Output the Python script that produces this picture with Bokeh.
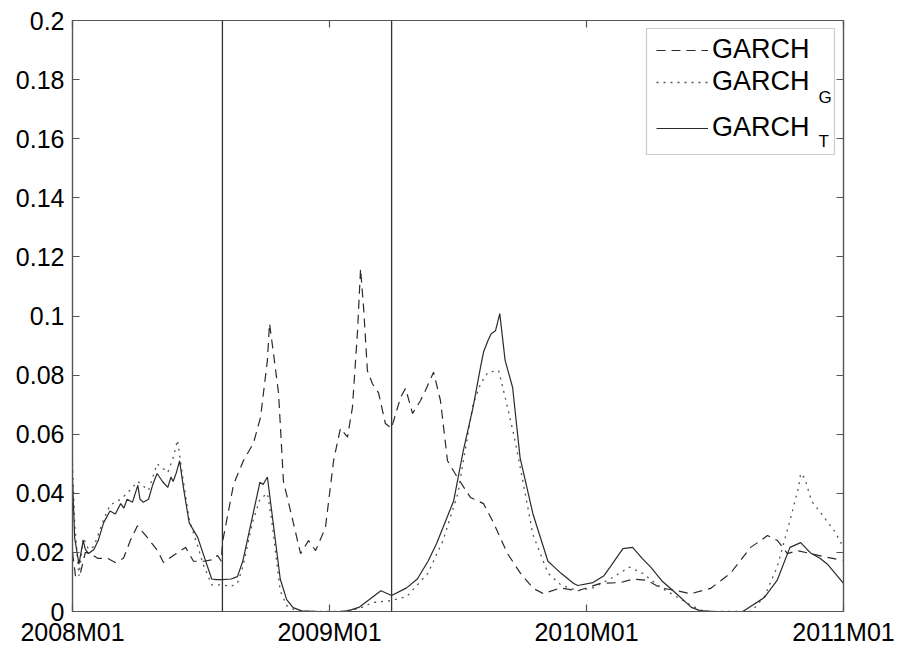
from bokeh.plotting import figure
from bokeh.models import (FixedTicker, LinearAxis, Span, Legend, LegendItem,
                          Label, BoxAnnotation, Range1d)
from bokeh.embed import file_html
from bokeh.resources import INLINE

FONT = "Liberation Sans"

# x in months since 2008M01
x_ticks = [0, 12, 24, 36]
x_tick_labels = ["2008M01", "2009M01", "2010M01", "2011M01"]
y_ticks = [0, 0.02, 0.04, 0.06, 0.08, 0.1, 0.12, 0.14, 0.16, 0.18, 0.2]
y_tick_labels = ["0", "0.02", "0.04", "0.06", "0.08", "0.1", "0.12",
                 "0.14", "0.16", "0.18", "0.2"]
event_months = [7.0, 14.9]

series_names = ["GARCH", "GARCH", "GARCH"]
series_subscripts = ["", "G", "T"]

# GARCH (dashed)
t_garch = [0, 0.14, 0.37, 0.6, 0.84, 1.17, 1.63, 2.0, 2.38, 2.7,
           3.03, 3.5, 3.97, 4.25, 4.72, 5.28, 5.65, 6.12, 6.54, 6.77,
           6.95, 7.0, 7.52, 7.98, 8.45, 8.78, 9.1, 9.2, 9.39, 9.62,
           9.85, 10.18, 10.65, 11.02, 11.35, 11.81, 12.19, 12.51, 12.84, 13.07,
           13.31, 13.45, 13.59, 13.77, 14.01, 14.29, 14.61, 14.89, 15.32, 15.55,
           15.88, 16.25, 16.48, 16.86, 17.18, 17.51, 17.98, 18.58, 19.19, 19.66,
           20.31, 20.92, 21.52, 21.99, 22.79, 23.58, 24.65, 25.59, 26.19, 26.85,
           27.46, 28.25, 28.86, 29.79, 30.72, 31.66, 32.13, 32.45, 32.92, 33.38,
           33.85, 34.46, 35.25, 35.95]
v_garch = [0.020, 0.012, 0.013, 0.020, 0.0196, 0.018, 0.018, 0.0166, 0.018, 0.024,
           0.029, 0.025, 0.0206, 0.0166, 0.019, 0.0217, 0.017, 0.017, 0.0175, 0.019,
           0.017, 0.0233, 0.043, 0.051, 0.057, 0.0657, 0.085, 0.0975, 0.087, 0.074,
           0.044, 0.034, 0.0196, 0.024, 0.0206, 0.0284, 0.051, 0.062, 0.059, 0.069,
           0.095, 0.116, 0.103, 0.0815, 0.077, 0.074, 0.0636, 0.062, 0.0725, 0.0755,
           0.067, 0.0714, 0.0748, 0.081, 0.0714, 0.051, 0.0453, 0.0386, 0.0365, 0.030,
           0.0196, 0.0129, 0.0078, 0.006, 0.008, 0.007, 0.0095, 0.0098, 0.011, 0.0105,
           0.008, 0.007, 0.006, 0.0078, 0.0129, 0.0217, 0.024, 0.0257, 0.024, 0.0196,
           0.0206, 0.0196, 0.0183, 0.0173]

# GARCH_G (dotted)
t_garch_g = [0, 0.1, 0.3, 0.5, 0.75, 1.0, 1.45, 1.75, 2.25, 2.55,
             3.05, 3.55, 3.95, 4.45, 4.7, 4.9, 5.0, 5.2, 5.45, 5.85,
             6.1, 6.5, 7.0, 7.4, 7.7, 7.95, 8.4, 8.75, 9.1, 9.3,
             9.7, 10.0, 10.5, 12.5, 13.4, 14.0, 14.9, 15.6, 16.6, 17.3,
             18.0, 18.25, 18.7, 19.05, 19.4, 19.9, 20.2, 20.6, 20.9, 21.5,
             22.2, 22.8, 23.6, 24.3, 25.1, 26.0, 26.6, 27.5, 28.2, 28.9,
             29.5, 31.7, 32.3, 32.9, 33.5, 33.9, 34.0, 34.2, 34.5, 35.1,
             35.6, 36.0]
v_garch_g = [0.050, 0.030, 0.012, 0.025, 0.021, 0.022, 0.031, 0.036, 0.038, 0.040,
             0.044, 0.041, 0.050, 0.047, 0.052, 0.058, 0.053, 0.043, 0.031, 0.022,
             0.016, 0.009, 0.009, 0.0085, 0.0095, 0.015, 0.030, 0.038, 0.040, 0.031,
             0.007, 0.002, 0.0, 0.0, 0.001, 0.003, 0.0037, 0.005, 0.013, 0.024,
             0.040, 0.051, 0.070, 0.077, 0.081, 0.0815, 0.0725, 0.060, 0.049, 0.026,
             0.013, 0.009, 0.007, 0.008, 0.011, 0.015, 0.013, 0.008, 0.005, 0.002,
             0.0, 0.0, 0.005, 0.015, 0.0308, 0.042, 0.0467, 0.045, 0.0375, 0.0318,
             0.027, 0.0217]

# GARCH_T (solid)
t_garch_t = [0, 0.1, 0.3, 0.5, 0.6, 0.75, 1.0, 1.2, 1.45, 1.75,
             2.0, 2.25, 2.4, 2.55, 2.8, 3.05, 3.15, 3.3, 3.55, 3.75,
             3.95, 4.2, 4.45, 4.6, 4.7, 4.85, 5.0, 5.2, 5.45, 5.85,
             6.1, 6.5, 6.7, 7.0, 7.4, 7.7, 7.95, 8.4, 8.75, 8.9,
             9.1, 9.3, 9.7, 10.0, 10.3, 10.7, 11.5, 12.5, 12.9, 13.4,
             13.8, 14.4, 14.9, 15.6, 16.1, 16.6, 17.0, 17.3, 17.8, 18.25,
             18.7, 19.05, 19.2, 19.4, 19.55, 19.75, 19.95, 20.2, 20.55, 20.9,
             21.5, 22.2, 22.5, 22.8, 23.4, 23.6, 24.3, 24.8, 25.1, 25.7,
             26.15, 26.6, 27.0, 27.5, 28.2, 28.9, 29.3, 30.0, 31.3, 32.3,
             32.9, 33.5, 34.0, 34.3, 34.5, 34.9, 35.25, 35.6, 36.0]
v_garch_t = [0.045, 0.025, 0.016, 0.024, 0.021, 0.0196, 0.021, 0.024, 0.030, 0.034,
             0.033, 0.0365, 0.035, 0.038, 0.037, 0.0427, 0.038, 0.037, 0.038, 0.043,
             0.0467, 0.044, 0.042, 0.0455, 0.044, 0.047, 0.051, 0.041, 0.030, 0.025,
             0.0196, 0.011, 0.0108, 0.0108, 0.011, 0.0118, 0.017, 0.032, 0.0437, 0.043,
             0.0455, 0.034, 0.011, 0.004, 0.0013, 0.0002, 0.0, 0.0, 0.0003, 0.0015,
             0.0037, 0.007, 0.0054, 0.008, 0.011, 0.017, 0.023, 0.0284, 0.0375, 0.0545,
             0.069, 0.0826, 0.088, 0.0917, 0.094, 0.095, 0.1008, 0.085, 0.0758, 0.052,
             0.033, 0.017, 0.015, 0.013, 0.0095, 0.0088, 0.0098, 0.012, 0.015, 0.0213,
             0.0217, 0.018, 0.015, 0.0105, 0.006, 0.0014, 0.0003, 0.0, 0.0, 0.0047,
             0.0105, 0.0217, 0.0233, 0.021, 0.0196, 0.018, 0.016, 0.013, 0.0095]

AXIS_COLOR = "#555555"
LINE_COLOR = "#2a2a2a"

p = figure(width=895, height=648, output_backend="svg", toolbar_location=None,
           x_range=Range1d(0, 36), y_range=Range1d(0, 0.2),
           x_axis_type=None, y_axis_type=None,
           min_border_left=72, min_border_right=52,
           min_border_top=20, min_border_bottom=37)
p.outline_line_color = AXIS_COLOR
p.outline_line_width = 1.2
p.background_fill_color = "white"
p.border_fill_color = "white"

xt = FixedTicker(ticks=x_ticks)
yt = FixedTicker(ticks=y_ticks)


def make_axis(ticker, labels, show_labels):
    ax = LinearAxis(ticker=ticker)
    ax.axis_line_color = AXIS_COLOR
    ax.axis_line_width = 1.2
    ax.major_tick_line_color = AXIS_COLOR
    ax.major_tick_line_width = 1.2
    ax.major_tick_in = 7
    ax.major_tick_out = 0
    ax.minor_tick_line_color = None
    ax.major_label_text_font = FONT
    ax.major_label_text_color = "black"
    if show_labels:
        ax.major_label_overrides = {t: l for t, l in zip(ticker.ticks, labels)}
        ax.major_label_text_font_size = "25px"
    else:
        ax.major_label_overrides = {t: "" for t in ticker.ticks}
        ax.major_label_text_font_size = "2px"
        ax.major_label_standoff = 0
    return ax


bottom = make_axis(xt, x_tick_labels, True)
bottom.major_label_standoff = 6
left = make_axis(yt, y_tick_labels, True)
left.major_label_standoff = 8
top = make_axis(xt, x_tick_labels, False)
right = make_axis(yt, y_tick_labels, False)
p.add_layout(bottom, "below")
p.add_layout(left, "left")
p.add_layout(top, "above")
p.add_layout(right, "right")

for m in event_months:
    p.add_layout(Span(location=m, dimension="height", line_color="#333333",
                      line_width=1.3))

r_d = p.line(t_garch, v_garch, line_color=LINE_COLOR, line_width=1.2,
             line_dash="9 6")
r_g = p.line(t_garch_g, v_garch_g, line_color="#555555", line_width=1.3,
             line_dash="2 5")
r_t = p.line(t_garch_t, v_garch_t, line_color=LINE_COLOR, line_width=1.2)

# legend frame (screen units relative to plot frame)
p.add_layout(BoxAnnotation(left=574, right=762, bottom=457, top=583,
                           left_units="screen", right_units="screen",
                           bottom_units="screen", top_units="screen",
                           fill_color="white", fill_alpha=1.0,
                           line_color=AXIS_COLOR, line_width=1.2))

row_bottoms = [546, 514, 468]
for r, name, yb in zip([r_d, r_g, r_t], series_names, row_bottoms):
    lg = Legend(items=[LegendItem(label=name, renderers=[r])],
                location=(584, yb), margin=0, padding=0, spacing=0,
                label_standoff=4, glyph_width=52, glyph_height=26,
                label_height=26, label_text_font=FONT,
                label_text_font_size="27px", label_text_color="black",
                background_fill_alpha=0, border_line_alpha=0)
    p.add_layout(lg, "center")

sub_pos = [(None, None), (746, 514), (746, 470)]
for s, (sx, sy) in zip(series_subscripts, sub_pos):
    if s:
        p.add_layout(Label(x=sx, y=sy, x_units="screen", y_units="screen",
                           text=s, text_font=FONT, text_font_size="17px",
                           text_color="black", text_baseline="middle",
                           text_align="left"))

open("out.html", "w").write(file_html(p, INLINE))
